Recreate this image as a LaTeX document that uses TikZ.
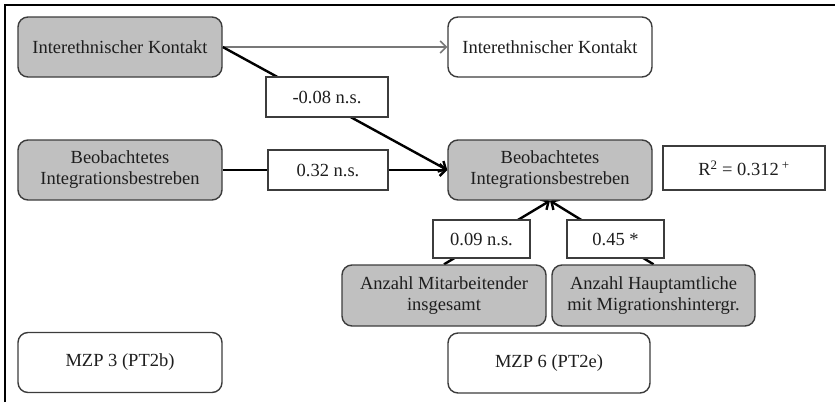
\documentclass[tikz,border=0pt]{standalone}
\usepackage{fontspec}
\setmainfont{Liberation Serif}
\usepackage{tikz}
\usetikzlibrary{positioning, arrows.meta, backgrounds}
\definecolor{mzBorder}{RGB}{60, 60, 60}
\definecolor{mzFill}{RGB}{192, 192, 192}
\definecolor{mzText}{RGB}{30, 30, 30}
\definecolor{mzArrow}{RGB}{120, 120, 120}
\tikzset{
    base/.style={
        font=\fontsize{18.5}{21}\selectfont,
        align=center,
        text=mzText,
        inner sep=0pt
    },
    predictor/.style={
        base,
        rectangle,
        rounded corners=10pt,
        draw=mzBorder,
        line width=1.4pt,
        fill=mzFill,
        minimum width=204pt,
        minimum height=60pt
    },
    outcome/.style={
        predictor,
        fill=white
    },
    coef/.style={
        base,
        rectangle,
        draw=mzBorder,
        line width=1.2pt,
        fill=white,
        minimum width=120pt,
        minimum height=40pt
    },
    path/.style={
        -{Straight Barb[length=6pt, width=12pt]},
        line width=2.4pt,
        color=black
    },
    stable/.style={
        -{Straight Barb[length=6pt, width=12pt]},
        line width=1.6pt,
        color=mzArrow
    }
}

\begin{document}
\begin{tikzpicture}[x=1pt, y=-1pt]
  \useasboundingbox (0,0) rectangle (835,402);
  % Frame
  \draw[line width=1.8pt] (5,402) -- (5,5) -- (835,5);

  % Time points (MZP 3)
  \node[predictor] (kontakt3) at (120,47) {Interethnischer Kontakt};
  \node[predictor] (integr3) at (120,170) {Beobachtetes\\Integrationsbestreben};
  \node[outcome] (mzp3) at (120,362.5) {MZP 3 (PT2b)};

  % Time points (MZP 6)
  \node[outcome] (kontakt6) at (550,47) {Interethnischer Kontakt};
  \node[predictor] (integr6) at (550,170) {Beobachtetes\\Integrationsbestreben};
  \node[predictor, minimum width=204pt, minimum height=61pt] (mitarb) at (444,295.5) {Anzahl Mitarbeitender\\insgesamt};
  \node[predictor, minimum width=203pt, minimum height=61pt] (hauptamt) at (653.5,295.5) {Anzahl Hauptamtliche\\mit Migrationshintergr.};
  \node[outcome, minimum width=202pt] (mzp6) at (549,363) {MZP 6 (PT2e)};

  % Coefficients
  \node[coef, minimum width=122pt] (c008) at (327,97) {-0.08 n.s.};
  \node[coef] (c032) at (328,170) {0.32 n.s.};
  \node[coef, minimum width=97pt, minimum height=38pt] (c009) at (481.5,239) {0.09 n.s.};
  \node[coef, minimum width=97pt, minimum height=38pt] (c045) at (615.5,239) {0.45 *};
  \node[coef, minimum width=162pt, minimum height=44pt] (rsq) at (744,168) {R\textsuperscript{2} = 0.312\,\textsuperscript{+}};

  % Paths
  \begin{scope}[on background layer]
    \draw[stable] (kontakt3.east) -- (kontakt6.west);
    \draw[path] (kontakt3.east) -- (integr6.west);
    \draw[path] (integr3.east) -- (integr6.west);
    \draw[path] (mitarb.north) -- (integr6.south);
    \draw[path] (hauptamt.north) -- (integr6.south);
  \end{scope}
\end{tikzpicture}
\end{document}
